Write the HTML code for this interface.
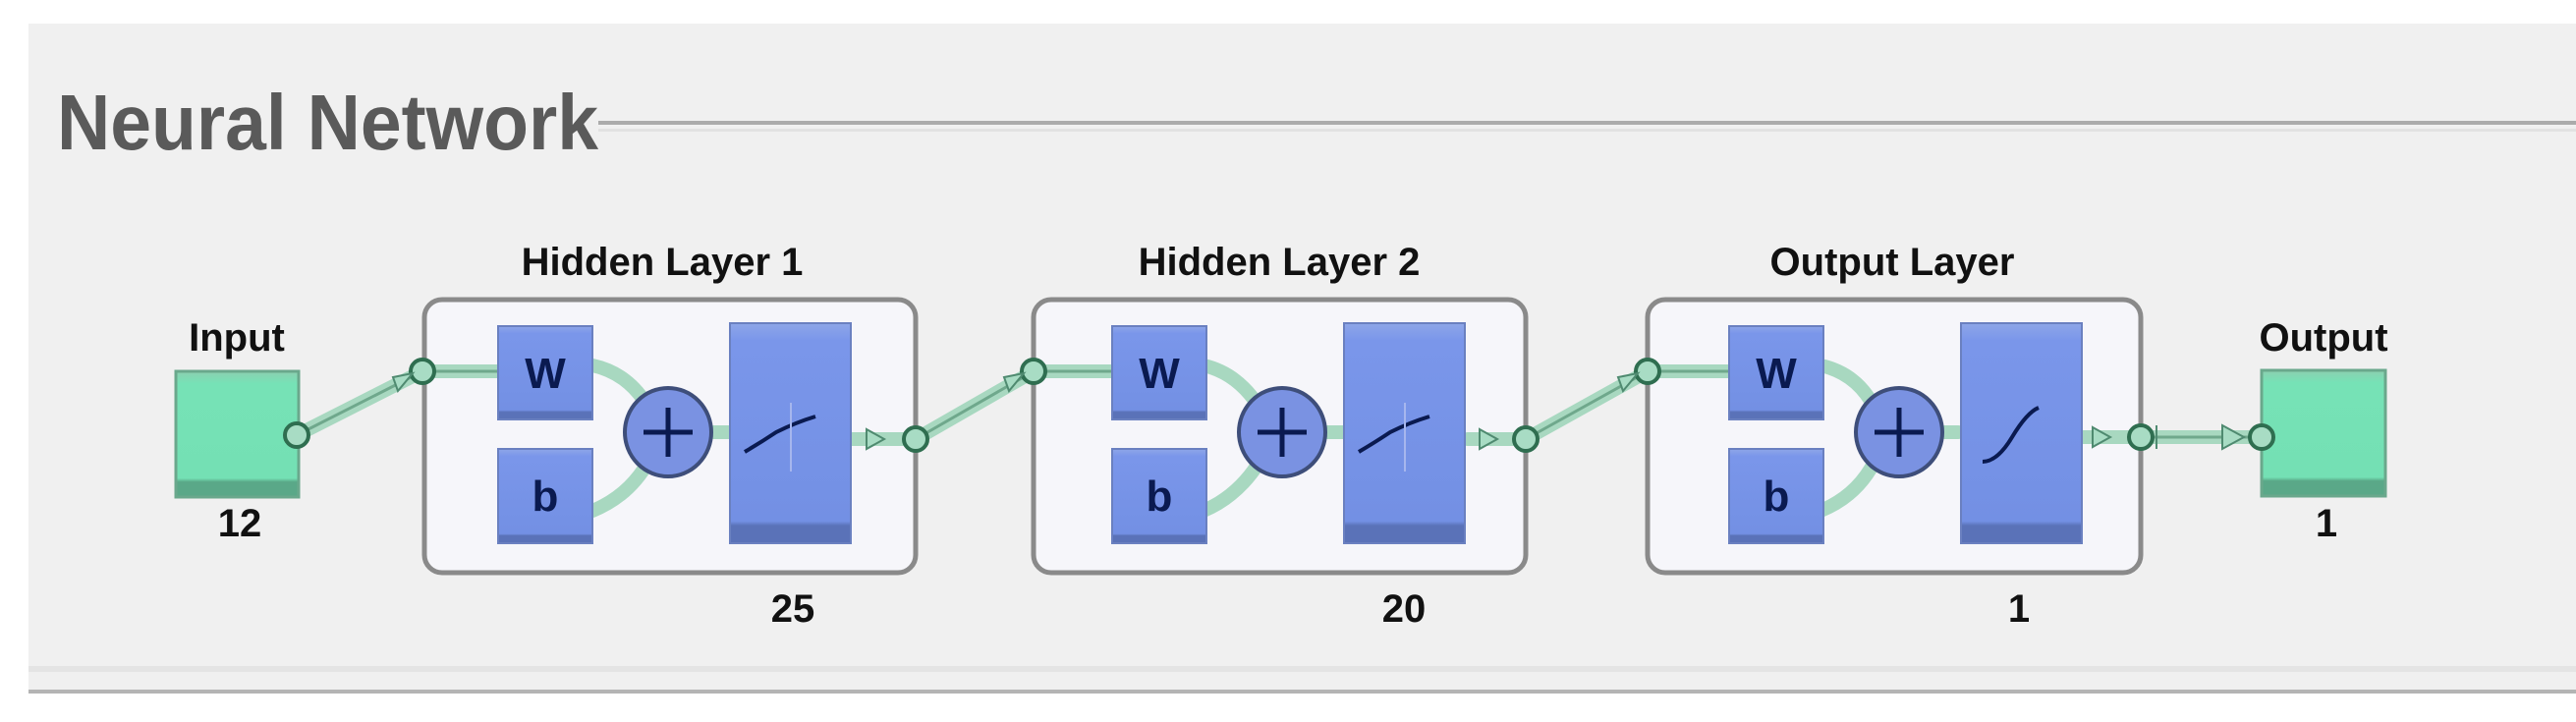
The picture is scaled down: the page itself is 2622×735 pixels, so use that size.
<!DOCTYPE html>
<html><head><style>
html,body{margin:0;padding:0;background:#fff;}
svg{display:block;}
text{font-family:"Liberation Sans Narrow","Liberation Sans",sans-serif;font-weight:bold;}
</style></head><body>
<svg width="2622" height="735" viewBox="0 0 2622 735" xmlns="http://www.w3.org/2000/svg">
<defs>
<linearGradient id="bl" x1="0" y1="0" x2="0" y2="1"><stop offset="0" stop-color="#8ea6e8"/><stop offset="0.08" stop-color="#7a96ea"/><stop offset="0.9" stop-color="#7390e4"/><stop offset="0.92" stop-color="#5a72b8"/><stop offset="1" stop-color="#5a72b8"/></linearGradient>
<linearGradient id="gr" x1="0" y1="0" x2="0" y2="1"><stop offset="0" stop-color="#8ccfb0"/><stop offset="0.1" stop-color="#76e2b6"/><stop offset="0.85" stop-color="#74e0b4"/><stop offset="0.88" stop-color="#5aa888"/><stop offset="1" stop-color="#5aa888"/></linearGradient>
</defs>
<rect x="29" y="24" width="2593" height="680" fill="#f0f0f0"/>
<rect x="29" y="678" width="2593" height="6" fill="#e4e4e4"/>
<rect x="29" y="702" width="2593" height="4" fill="#b4b4b4"/>
<rect x="609" y="123" width="2013" height="4" fill="#ababab"/>
<rect x="609" y="131" width="2013" height="3" fill="#e2e2e2"/>
<text x="58" y="152" font-size="80" fill="#5a5a5a" textLength="551" lengthAdjust="spacingAndGlyphs" style="font-family:'Liberation Sans',sans-serif">Neural Network</text>

<!-- Layer boxes -->
<g fill="#f6f6fa" stroke="#8a8a8a" stroke-width="5">
<rect x="432" y="305" width="500" height="278" rx="18"/>
<rect x="1052" y="305" width="501" height="278" rx="18"/>
<rect x="1677" y="305" width="502" height="278" rx="18"/>
</g>

<!-- connectors -->
<g fill="none" stroke-linecap="round" stroke-linejoin="round">
<g stroke="#a8d8c0" stroke-width="14">
<path d="M302 443 L430 378 L507 378"/>
<path d="M932 447 L1052 378 L1132 378"/>
<path d="M1553 447 L1677 378 L1760 378"/>
<path d="M2179 445 L2302 445"/>
<path d="M603 372 Q640 380 660 415"/><path d="M603 520 Q640 505 660 470"/>
<path d="M1225 372 Q1260 380 1282 415"/><path d="M1225 520 Q1260 505 1282 470"/>
<path d="M1853 372 Q1890 380 1908 415"/><path d="M1853 520 Q1890 505 1908 470"/>
<path d="M866 447 L932 447"/><path d="M1494 447 L1553 447"/><path d="M2117 445 L2179 445"/>
<path d="M722 440 L743 440"/><path d="M1347 440 L1368 440"/><path d="M1972 440 L1993 440"/>
</g>
<g stroke="#6fa88c" stroke-width="3">
<path d="M302 443 L430 378 L507 378"/>
<path d="M932 447 L1052 378 L1132 378"/>
<path d="M1553 447 L1677 378 L1760 378"/>
<path d="M2179 445 L2302 445"/>
</g>
</g>

<!-- Input -->
<text x="241" y="357" font-size="40" text-anchor="middle" fill="#111">Input</text>
<rect x="179" y="378" width="125" height="128" fill="url(#gr)" stroke="#6aa88c" stroke-width="3"/>
<text x="244" y="546" font-size="40" text-anchor="middle" fill="#111">12</text>

<text x="674" y="280" font-size="40" text-anchor="middle" fill="#111">Hidden Layer 1</text>
<text x="1302" y="280" font-size="40" text-anchor="middle" fill="#111">Hidden Layer 2</text>
<text x="1926" y="280" font-size="40" text-anchor="middle" fill="#111">Output Layer</text>
<text x="807" y="633" font-size="40" text-anchor="middle" fill="#111">25</text>
<text x="1429" y="633" font-size="40" text-anchor="middle" fill="#111">20</text>
<text x="2055" y="633" font-size="40" text-anchor="middle" fill="#111">1</text>

<!-- inner elements -->
<g id="L1">
<rect x="507" y="332" width="96" height="95" fill="url(#bl)" stroke="#6a80c0" stroke-width="2"/>
<rect x="507" y="457" width="96" height="96" fill="url(#bl)" stroke="#6a80c0" stroke-width="2"/>
<text x="555" y="395" font-size="44" text-anchor="middle" fill="#0a1a50" style="font-family:'Liberation Sans',sans-serif">W</text>
<text x="555" y="520" font-size="44" text-anchor="middle" fill="#0a1a50" style="font-family:'Liberation Sans',sans-serif">b</text>
<ellipse cx="680" cy="440" rx="44" ry="45" fill="#7a92e2" stroke="#3e4e7a" stroke-width="4"/>
<path d="M680 415 V465 M655 440 H705" stroke="#0a1a50" stroke-width="5"/>
<rect x="743" y="329" width="123" height="224" fill="url(#bl)" stroke="#6a80c0" stroke-width="2"/>
<path d="M758 460 Q775 450 790 440 Q810 430 830 424" stroke="#0a1a50" stroke-width="4" fill="none"/>
<path d="M805 410 V480" stroke="#a6b6ee" stroke-width="2"/>
</g>
<use href="#L1" x="625"/>
<g transform="translate(1253,0)">
<rect x="507" y="332" width="96" height="95" fill="url(#bl)" stroke="#6a80c0" stroke-width="2"/>
<rect x="507" y="457" width="96" height="96" fill="url(#bl)" stroke="#6a80c0" stroke-width="2"/>
<text x="555" y="395" font-size="44" text-anchor="middle" fill="#0a1a50" style="font-family:'Liberation Sans',sans-serif">W</text>
<text x="555" y="520" font-size="44" text-anchor="middle" fill="#0a1a50" style="font-family:'Liberation Sans',sans-serif">b</text>
<ellipse cx="680" cy="440" rx="44" ry="45" fill="#7a92e2" stroke="#3e4e7a" stroke-width="4"/>
<path d="M680 415 V465 M655 440 H705" stroke="#0a1a50" stroke-width="5"/>
<rect x="743" y="329" width="123" height="224" fill="url(#bl)" stroke="#6a80c0" stroke-width="2"/>
<path d="M765 470 Q780 470 795 445 Q810 420 822 415" stroke="#0a1a50" stroke-width="4" fill="none"/>
</g>

<!-- Output -->
<text x="2365" y="357" font-size="40" text-anchor="middle" fill="#111">Output</text>
<rect x="2302" y="377" width="126" height="128" fill="url(#gr)" stroke="#6aa88c" stroke-width="3"/>
<text x="2368" y="546" font-size="40" text-anchor="middle" fill="#111">1</text>

<!-- junctions -->
<g fill="#a8dcc4" stroke="#2f6e50" stroke-width="4">
<circle cx="302" cy="443" r="12"/>
<circle cx="430" cy="378" r="12"/>
<circle cx="932" cy="447" r="12"/>
<circle cx="1052" cy="378" r="12"/>
<circle cx="1553" cy="447" r="12"/>
<circle cx="1677" cy="378" r="12"/>
<circle cx="2179" cy="445" r="12"/>
<circle cx="2302" cy="445" r="12"/>
</g>
<g fill="#a8dcc4" stroke="#4f8a70" stroke-width="2">
<path d="M400 384 L420 380 L405 398 Z"/>
<path d="M1022 384 L1042 380 L1027 398 Z"/>
<path d="M1647 384 L1667 380 L1652 398 Z"/>
<path d="M2262 433 L2284 445 L2262 457 Z"/>
<path d="M882 437 L900 447 L882 457 Z"/>
<path d="M1506 437 L1524 447 L1506 457 Z"/>
<path d="M2130 435 L2148 445 L2130 455 Z"/>
<path d="M2195 433 L2195 457"/>
</g>
</svg>
</body></html>
